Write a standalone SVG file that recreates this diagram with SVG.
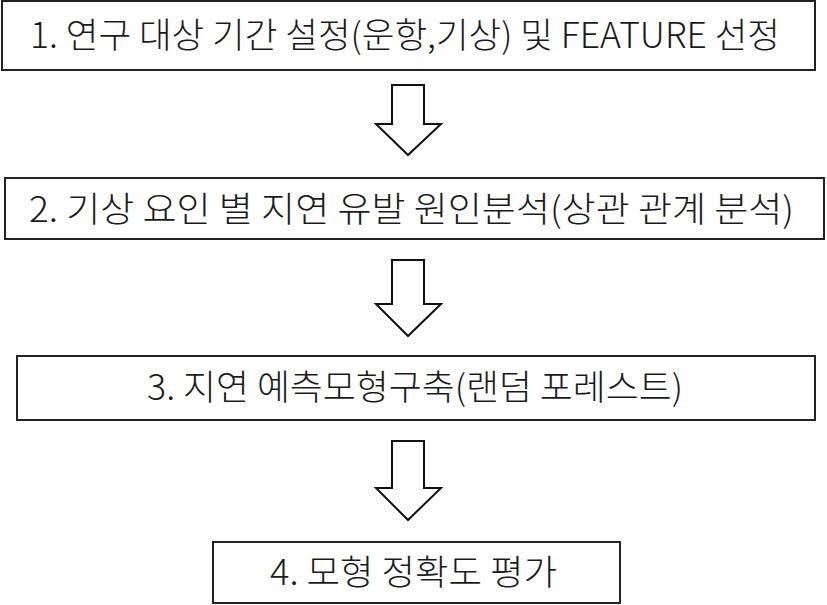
<svg xmlns="http://www.w3.org/2000/svg" width="827" height="605" viewBox="0 0 827 605">
<style>
.box{fill:#fff;stroke:#222;stroke-width:2}
.arr{fill:#fff;stroke:#111;stroke-width:2;stroke-linejoin:miter}
.t{font-family:"Noto Sans CJK KR","Malgun Gothic","Noto Sans",sans-serif;font-size:35px;font-weight:300;fill:#1a1a1a;text-anchor:start}
</style>
<rect width="827" height="605" fill="#fff"/>
<g id="connectors">
<polygon class="arr" points="392,85 424,85 424,124 441,124 408,155 376,124 392,124"/>
<polygon class="arr" points="392,260 424,260 424,304 441,304 408,336 376,304 392,304"/>
<polygon class="arr" points="392,441 424,441 424,488 441,488 408,520 376,488 392,488"/>
</g>
<g id="node1">
<rect class="box" x="2" y="1" width="813" height="69"/>
<text class="t" x="30" y="48" textLength="750" lengthAdjust="spacingAndGlyphs">1. 연구 대상 기간 설정(운항,기상) 및 FEATURE 선정</text>
</g>
<g id="node2">
<rect class="box" x="5" y="178" width="819" height="61"/>
<text class="t" x="29" y="222" textLength="765" lengthAdjust="spacingAndGlyphs">2. 기상 요인 별 지연 유발 원인분석(상관 관계 분석)</text>
</g>
<g id="node3">
<rect class="box" x="17" y="356" width="798" height="64"/>
<text class="t" x="147" y="400" textLength="536" lengthAdjust="spacingAndGlyphs">3. 지연 예측모형구축(랜덤 포레스트)</text>
</g>
<g id="node4">
<rect class="box" x="213" y="542" width="407" height="61"/>
<text class="t" x="270" y="585" textLength="287" lengthAdjust="spacingAndGlyphs">4. 모형 정확도 평가</text>
</g>
</svg>
